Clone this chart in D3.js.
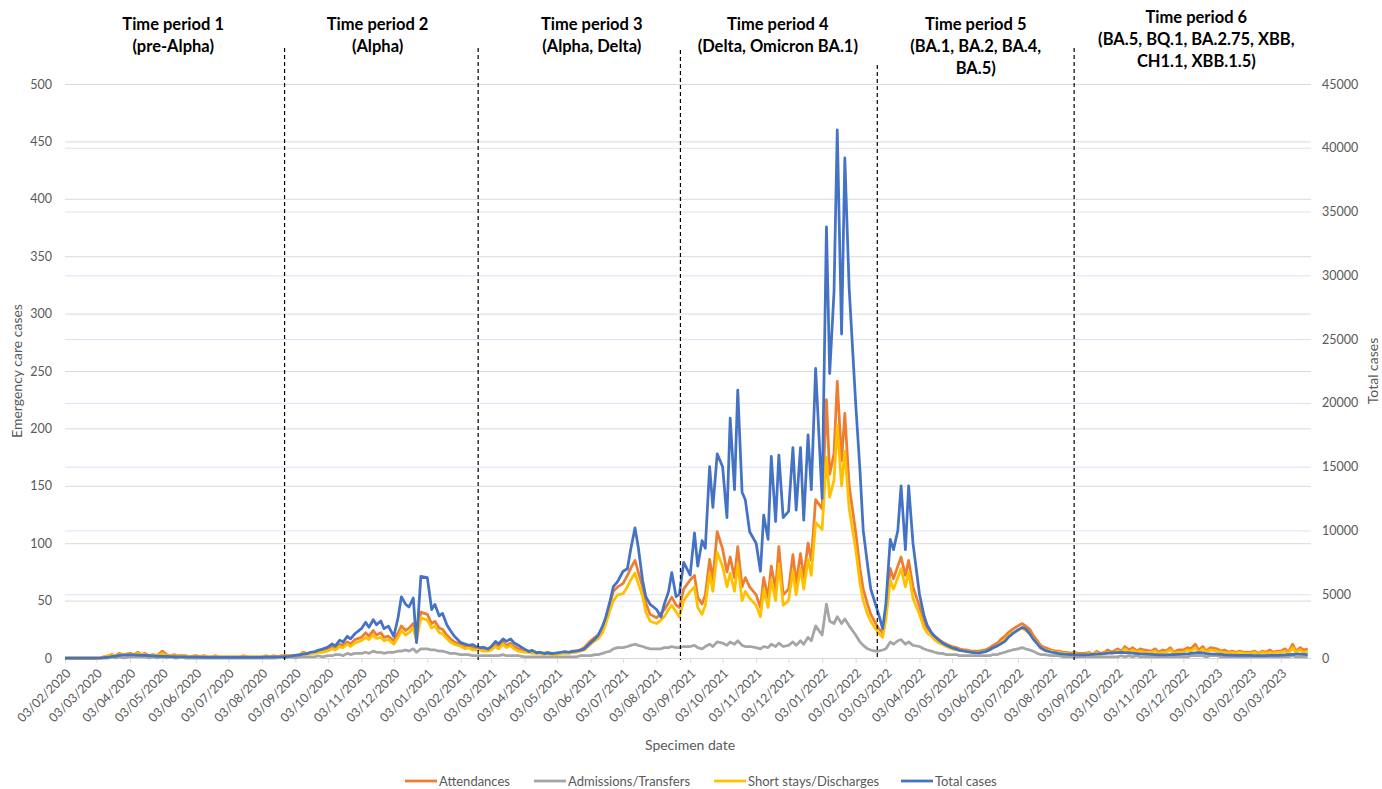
<!DOCTYPE html>
<html>
<head>
<meta charset="utf-8">
<script src="https://cdn.jsdelivr.net/npm/d3@7"></script>
<style>
  body { margin: 0; background: #fff; }
  svg text { font-family: Lato, "Open Sans", sans-serif; }
</style>
</head>
<body>
<div id="chart"></div>
<script>

// sample days used in every month (roughly twice a week)
const sampleDays = [3, 7, 10, 14, 17, 21, 24, 28];

// one row per month, Feb 2020 .. Mar 2023
const totalCases = [
  0,0,0,0,0,0,0,0,
  0,10,30,60,100,150,200,220,
  250,240,230,210,200,180,160,150,
  130,120,110,100,90,80,80,70,
  60,60,50,50,40,40,40,40,
  40,40,40,40,40,50,50,50,
  50,60,60,70,80,90,100,120,
  200,250,300,350,450,500,600,700,
  850,1100,950,1400,1250,1700,1500,1900,
  2300,2800,2400,3000,2600,2900,2300,2500,
  1700,3200,4800,4200,4000,4700,1200,6400,
  6300,3800,4200,3300,3500,2600,2200,1700,
  1200,1100,1000,1050,900,800,850,700,
  900,1300,1100,1500,1300,1500,1200,1000,
  700,500,600,400,450,350,400,350,
  400,450,500,450,500,550,600,700,
  1200,1500,1800,2500,3200,4500,5600,6000,
  6800,7000,8500,10200,8700,6100,4800,4200,
  3800,3200,4200,5200,6700,4800,5000,7500,
  6500,9800,7200,9200,8600,15000,11800,16000,
  15000,11000,18800,13200,21000,13000,12400,9900,
  9000,6800,11200,9300,15800,10700,15900,11000,
  11500,16500,11600,16500,10800,17500,13200,22700,
  12500,33800,22300,28700,41400,25400,39200,29000,
  20000,14700,10000,7300,5400,4300,3500,2300,
  4300,9300,8500,10000,13500,8500,13500,9000,
  5000,3400,2600,2000,1700,1400,1200,1000,
  800,700,600,550,500,450,420,400,
  500,650,800,950,1100,1300,1600,1900,
  2200,2400,2300,1900,1500,1100,800,600,
  450,400,350,300,280,260,250,240,
  250,260,280,300,320,350,380,400,
  420,440,430,400,380,350,320,300,
  280,260,250,240,250,260,270,290,
  300,330,360,400,420,400,350,320,
  300,280,250,230,220,210,200,200,
  200,190,190,180,190,200,200,210,
  220,240,260,280,300,300,280,260
];

const attendances = [
  0,0,0,0,0,0,0,0,
  0,0,1,2,3,2,4,3,
  4,3,5,3,4,2,3,2,
  6,3,2,3,2,2,2,1,
  2,1,2,1,1,2,1,1,
  1,1,1,1,2,1,1,1,
  1,2,1,2,1,2,2,2,
  2,3,5,4,4,5,6,6,
  8,10,9,12,11,14,12,16,
  18,22,19,24,20,22,18,19,
  15,22,28,24,26,30,20,40,
  38,30,32,26,25,20,17,14,
  12,10,11,9,8,9,7,8,
  9,12,10,14,11,13,10,8,
  7,6,6,5,5,4,5,4,
  4,5,5,5,6,6,7,9,
  15,18,20,26,35,48,58,62,
  65,72,78,85,75,62,48,38,
  35,39,42,48,53,46,44,60,
  68,72,53,47,55,86,68,110,
  95,75,88,70,97,62,70,62,
  55,44,70,53,80,60,97,55,
  60,90,65,91,70,100,85,138,
  130,225,160,178,241,172,213,150,
  110,78,60,47,38,31,26,22,
  40,78,69,80,88,72,85,62,
  45,32,26,22,19,16,14,12,
  10,9,8,7,7,6,6,6,
  7,9,11,13,16,19,22,25,
  28,30,28,25,20,15,11,9,
  7,6,6,5,5,4,5,4,
  4,5,3,6,4,5,7,5,
  8,6,10,7,9,6,8,7,
  6,8,5,7,6,9,5,7,
  7,9,8,12,7,10,6,9,
  8,6,7,5,6,5,6,5,
  5,6,4,6,5,7,5,6,
  6,8,5,12,6,9,7,8
];

const admissions = [
  0,0,0,0,0,0,0,0,
  0,0,0,0,1,0,1,0,
  1,1,1,1,1,0,1,0,
  1,0,1,0,0,1,0,0,
  0,0,0,0,0,0,0,0,
  0,0,0,0,0,0,0,0,
  0,0,0,0,0,1,0,1,
  0,1,1,1,1,1,2,1,
  2,2,3,3,2,4,3,4,
  4,5,4,6,5,5,4,5,
  5,6,6,7,6,8,5,8,
  8,7,7,6,6,5,4,4,
  3,3,3,2,2,2,2,2,
  2,2,2,3,2,2,2,2,
  1,1,1,1,1,1,1,1,
  1,1,1,1,1,1,2,2,
  2,3,3,4,5,6,8,9,
  9,10,11,12,11,10,9,8,
  8,8,9,9,10,9,9,10,
  10,11,9,8,10,12,10,14,
  13,11,14,12,15,11,10,10,
  9,8,10,9,12,10,13,10,
  11,14,11,15,12,18,15,28,
  20,47,32,30,36,30,34,28,
  20,14,11,8,7,6,6,7,
  8,14,12,15,16,12,14,11,
  10,8,7,6,5,4,4,3,
  3,3,2,2,2,2,2,2,
  2,2,3,3,4,5,6,7,
  8,9,8,7,6,4,3,3,
  2,2,2,1,1,1,1,1,
  1,1,1,1,1,1,1,1,
  1,2,1,2,1,2,1,1,
  1,1,1,1,1,1,1,1,
  1,1,2,2,2,2,1,2,
  2,1,1,1,1,1,1,1,
  1,1,1,1,1,1,1,1,
  1,1,1,2,1,1,1,1
];

const shortStays = [
  0,0,0,0,0,0,0,0,
  0,0,1,2,2,2,3,3,
  3,3,4,3,3,2,2,2,
  4,2,2,2,2,1,2,1,
  1,1,1,1,1,1,1,1,
  1,1,1,1,1,1,1,1,
  1,1,1,1,1,2,1,2,
  2,3,4,3,4,4,5,5,
  6,8,7,10,9,12,10,13,
  15,18,16,20,17,18,15,16,
  12,18,24,20,22,26,15,35,
  33,26,28,22,21,17,14,12,
  10,8,9,7,7,7,6,6,
  7,10,8,12,9,11,8,6,
  5,5,4,4,4,3,4,3,
  3,4,4,4,5,5,6,7,
  12,15,17,22,30,42,50,55,
  56,62,68,74,65,54,40,32,
  30,33,36,42,46,40,36,50,
  58,62,44,38,46,74,58,92,
  80,62,74,58,82,50,58,52,
  46,36,60,44,68,50,82,46,
  50,76,55,78,60,86,72,118,
  112,175,140,155,203,150,180,130,
  95,65,50,38,32,26,22,18,
  34,68,60,70,78,62,75,52,
  38,27,22,19,16,13,12,10,
  8,7,7,6,6,5,5,5,
  6,7,9,11,13,16,19,22,
  24,26,24,21,17,13,9,7,
  6,5,5,4,4,3,4,3,
  3,4,3,5,3,4,5,4,
  6,5,8,5,7,5,6,5,
  5,6,4,5,5,7,4,5,
  5,7,6,9,5,8,5,7,
  6,5,5,4,5,4,5,4,
  4,5,3,5,4,5,4,5,
  5,6,4,9,5,7,5,6
];

// tick values for the two value axes
const leftTicks = d3.range(0, 501, 50);
const rightTicks = d3.range(0, 45001, 5000);

// time periods: divider dates, header centre dates and text
const dividerDates = ["2020-08-24", "2021-02-19", "2021-08-25", "2022-02-23", "2022-08-24"];
const dividerTops = [48, 48, 50, 65, 48];
const periodCentres = ["2020-05-13", "2020-11-18", "2021-06-04", "2021-11-23", "2022-05-25", "2022-12-15"];
const periodLabels = [
  ["Time period 1", "(pre-Alpha)"],
  ["Time period 2", "(Alpha)"],
  ["Time period 3", "(Alpha, Delta)"],
  ["Time period 4", "(Delta, Omicron BA.1)"],
  ["Time period 5", "(BA.1, BA.2, BA.4,", "BA.5)"],
  ["Time period 6", "(BA.5, BQ.1, BA.2.75, XBB,", "CH1.1, XBB.1.5)"]
];
const headerTops = [24, 24, 24, 24, 24, 17];

const seriesNames = ["Attendances", "Admissions/Transfers", "Short stays/Discharges", "Total cases"];
const seriesColors = ["#ED7D31", "#A5A5A5", "#FFC000", "#4472C4"];

// dates of the samples
const months = d3.utcMonth.range(new Date(Date.UTC(2020, 1, 1)), new Date(Date.UTC(2023, 3, 1)));
const dates = months.flatMap(m => sampleDays.map(d =>
  new Date(Date.UTC(m.getUTCFullYear(), m.getUTCMonth(), d))));
const monthTicks = months.map(m => d3.utcDay.offset(m, 2));

const parseDay = d3.utcParse("%Y-%m-%d");

const width = 1382, height = 789;
const plotLeft = 65, plotRight = 1311, plotTop = 84, plotBottom = 658;

const svg = d3.select("#chart").append("svg")
  .attr("width", width)
  .attr("height", height);

const x = d3.scaleUtc()
  .domain([new Date(Date.UTC(2020, 1, 3)), new Date(Date.UTC(2023, 2, 31))])
  .range([plotLeft, plotRight]);
const yLeft = d3.scaleLinear().domain([0, 500]).range([plotBottom, plotTop]);
const yRight = d3.scaleLinear().domain([0, 45000]).range([plotBottom, plotTop]);

// gridlines
svg.append("g").selectAll("line")
  .data(rightTicks.slice(1))
  .enter().append("line")
  .attr("x1", plotLeft).attr("x2", plotRight)
  .attr("y1", d => yRight(d) + 0.5).attr("y2", d => yRight(d) + 0.5)
  .style("stroke", "#dae3f3").style("stroke-width", 1);

svg.append("g").selectAll("line")
  .data(leftTicks.slice(1))
  .enter().append("line")
  .attr("x1", plotLeft).attr("x2", plotRight)
  .attr("y1", d => yLeft(d) + 0.5).attr("y2", d => yLeft(d) + 0.5)
  .style("stroke", "#d9d9d9").style("stroke-width", 1);

// x axis
const xAxis = svg.append("g")
  .attr("transform", "translate(0," + plotBottom + ")")
  .call(d3.axisBottom(x)
    .tickValues(monthTicks)
    .tickFormat(d3.utcFormat("%d/%m/%Y"))
    .tickSize(5)
    .tickSizeOuter(0));
xAxis.select(".domain").style("stroke", "#d9d9d9");
xAxis.selectAll(".tick line").style("stroke", "#d9d9d9");
xAxis.selectAll(".tick text")
  .attr("x", 0).attr("y", 0).attr("dy", "0.35em")
  .attr("transform", "translate(3,13) rotate(-45)")
  .style("text-anchor", "end")
  .style("font-size", "12.5px")
  .style("fill", "#595959");

// left axis
const yAxisL = svg.append("g")
  .attr("transform", "translate(" + plotLeft + ",0)")
  .call(d3.axisLeft(yLeft).tickValues(leftTicks).tickSize(0).tickPadding(13));
yAxisL.select(".domain").remove();
yAxisL.selectAll("text").style("font-size", "12.5px").style("fill", "#595959");

// right axis
const yAxisR = svg.append("g")
  .attr("transform", "translate(" + plotRight + ",0)")
  .call(d3.axisRight(yRight).tickValues(rightTicks).tickFormat(d3.format("d"))
    .tickSize(0).tickPadding(11));
yAxisR.select(".domain").remove();
yAxisR.selectAll("text").style("font-size", "12.5px").style("fill", "#595959");

// axis titles
svg.append("text")
  .attr("transform", "translate(22," + (plotTop + plotBottom) / 2 + ") rotate(-90)")
  .attr("text-anchor", "middle")
  .style("font-size", "14px").style("fill", "#595959")
  .text("Emergency care cases");
svg.append("text")
  .attr("transform", "translate(1378," + (plotTop + plotBottom) / 2 + ") rotate(-90)")
  .attr("text-anchor", "middle")
  .style("font-size", "14px").style("fill", "#595959")
  .text("Total cases");
svg.append("text")
  .attr("x", 690).attr("y", 750)
  .attr("text-anchor", "middle")
  .style("font-size", "14px").style("fill", "#595959")
  .text("Specimen date");

// series
const leftSeries = [attendances, admissions, shortStays];
const lineLeft = d3.line()
  .x((d, i) => x(dates[i]))
  .y(d => yLeft(d));
const lineRight = d3.line()
  .x((d, i) => x(dates[i]))
  .y(d => yRight(d));

leftSeries.forEach((values, k) => {
  svg.append("path")
    .datum(values)
    .attr("d", lineLeft)
    .style("fill", "none")
    .style("stroke", seriesColors[k])
    .style("stroke-width", 2.75)
    .style("stroke-linejoin", "round");
});
svg.append("path")
  .datum(totalCases)
  .attr("d", lineRight)
  .style("fill", "none")
  .style("stroke", seriesColors[3])
  .style("stroke-width", 2.75)
  .style("stroke-linejoin", "round");

// period dividers
svg.append("g").selectAll("line")
  .data(dividerDates)
  .enter().append("line")
  .attr("x1", d => x(parseDay(d))).attr("x2", d => x(parseDay(d)))
  .attr("y1", (d, i) => dividerTops[i]).attr("y2", plotBottom + 2)
  .style("stroke", "#000")
  .style("stroke-width", 1.2)
  .style("stroke-dasharray", "4,3");

// period headers
periodLabels.forEach((lines, i) => {
  const t = svg.append("text")
    .attr("x", x(parseDay(periodCentres[i])))
    .attr("y", headerTops[i])
    .attr("text-anchor", "middle")
    .attr("dominant-baseline", "central")
    .style("font-size", "16.5px")
    .style("font-weight", "bold")
    .style("fill", "#000");
  lines.forEach((s, j) => {
    t.append("tspan")
      .attr("x", x(parseDay(periodCentres[i])))
      .attr("dy", j === 0 ? 0 : 22)
      .text(s);
  });
});

// legend
const legendX = [405, 534, 714, 901];
const legend = svg.append("g");
seriesNames.forEach((name, i) => {
  legend.append("line")
    .attr("x1", legendX[i]).attr("x2", legendX[i] + 32)
    .attr("y1", 781).attr("y2", 781)
    .style("stroke", seriesColors[i])
    .style("stroke-width", 2.75);
  legend.append("text")
    .attr("x", legendX[i] + 34).attr("y", 781)
    .attr("dominant-baseline", "central")
    .style("font-size", "13px").style("fill", "#595959")
    .text(name);
});

</script>
</body>
</html>
